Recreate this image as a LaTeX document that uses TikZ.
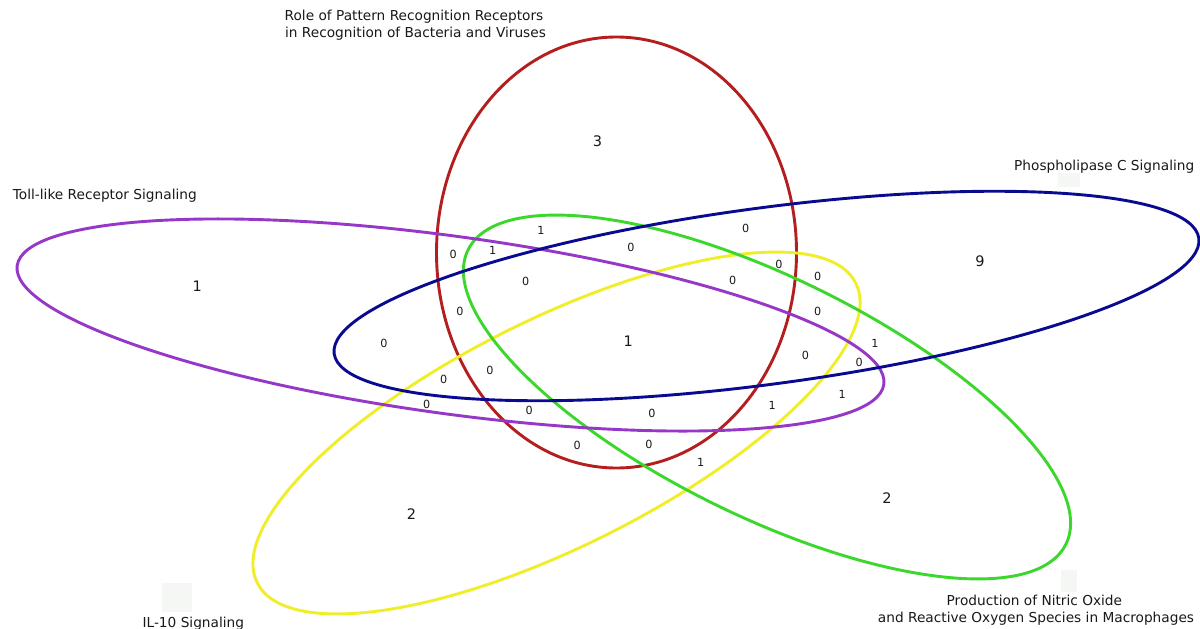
\documentclass[tikz,border=0pt]{standalone}
\usepackage{fontspec}
\setmainfont{DejaVu Sans}
\definecolor{vred}{RGB}{180,30,30}
\definecolor{vblue}{RGB}{10,10,145}
\definecolor{vpurple}{RGB}{150,55,200}
\definecolor{vgreen}{RGB}{60,215,45}
\definecolor{vyellow}{RGB}{240,238,40}
\definecolor{vtext}{RGB}{25,25,25}
\definecolor{vghost}{RGB}{244,247,244}
\begin{document}
\begin{tikzpicture}[x=1pt,y=-1pt,
  venn/.style={line width=2.9pt},
  lbl/.style={font=\fontsize{13.7}{16}\selectfont, inner sep=0pt, text=vtext},
  big/.style={font=\fontsize{14.5}{16}\selectfont, inner sep=0pt, text=vtext},
  sml/.style={font=\fontsize{11.2}{13}\selectfont, inner sep=0pt, text=vtext},
  ghost/.style={fill=vghost, draw=none}]
\useasboundingbox (0,0) rectangle (1200,629);
\fill[white] (0,0) rectangle (1200,629);

% faint background squares
\fill[ghost] (161.7,583) rectangle (191.7,611.7);
\fill[ghost] (1061,570) rectangle (1076.5,591.7);
\fill[ghost] (1058,173) rectangle (1080,187);

% sets
\draw[venn, vred] (616.5,252.5) ellipse [x radius=180pt, y radius=215.5pt];
\draw[venn, vyellow, rotate around={26.6:(556.5,433)}] (556.5,433) ellipse [x radius=334.7pt, y radius=113.4pt];
\draw[venn, vgreen, rotate around={-26.2:(767,397)}] (767,397) ellipse [x radius=333.2pt, y radius=119.3pt];
\draw[venn, vpurple, rotate around={-7.8:(450.5,325)}] (450.5,325) ellipse [x radius=437.4pt, y radius=88.7pt];
\draw[venn, vblue, rotate around={7.6:(766.5,296)}] (766.5,296) ellipse [x radius=436.2pt, y radius=88.2pt];

% labels
\node[lbl, anchor=base west] (toll) at (12.7,199) {Toll-like Receptor Signaling};
\node[lbl, anchor=base west] (plc) at (1014,170) {Phospholipase C Signaling};
\node[lbl, anchor=base] (prr1) at (414,20) {Role of Pattern Recognition Receptors};
\node[lbl, anchor=base] (prr2) at (415.5,37) {in Recognition of Bacteria and Viruses};
\node[lbl, anchor=base] (no1) at (1034.4,605.7) {Production of Nitric Oxide};
\node[lbl, anchor=base] (no2) at (1036,622.7) {and Reactive Oxygen Species in Macrophages};
\node[lbl, anchor=base west] (il10) at (142.4,627) {IL-10 Signaling};

% large counts
\node[big] (n3) at (597.5,141.5) {3};
\node[big] (n1p) at (197.3,286) {1};
\node[big] (n9) at (980,261.7) {9};
\node[big] (n1c) at (628.3,341) {1};
\node[big] (n2y) at (411.4,514.3) {2};
\node[big] (n2g) at (887,497.7) {2};

% small counts
\node[sml] (s01) at (453.3,254.3) {0};
\node[sml] (s02) at (541,230) {1};
\node[sml] (s03) at (492.7,250) {1};
\node[sml] (s04) at (631,247.7) {0};
\node[sml] (s05) at (745.7,228.3) {0};
\node[sml] (s06) at (779,264) {0};
\node[sml] (s07) at (817.7,276) {0};
\node[sml] (s08) at (525.7,281.7) {0};
\node[sml] (s09) at (732.7,280) {0};
\node[sml] (s10) at (460,311.7) {0};
\node[sml] (s11) at (817.7,311) {0};
\node[sml] (s12) at (384,343.3) {0};
\node[sml] (s13) at (875,343.3) {1};
\node[sml] (s14) at (805.5,355) {0};
\node[sml] (s15) at (859.3,362.5) {0};
\node[sml] (s16) at (490,370.7) {0};
\node[sml] (s17) at (443.8,379.2) {0};
\node[sml] (s18) at (426.7,404.2) {0};
\node[sml] (s19) at (772.3,405.3) {1};
\node[sml] (s20) at (842.3,394.7) {1};
\node[sml] (s21) at (529.2,410.7) {0};
\node[sml] (s22) at (652,413.8) {0};
\node[sml] (s23) at (577.2,445.8) {0};
\node[sml] (s24) at (649,444) {0};
\node[sml] (s25) at (700.8,462.3) {1};
\end{tikzpicture}
\end{document}
